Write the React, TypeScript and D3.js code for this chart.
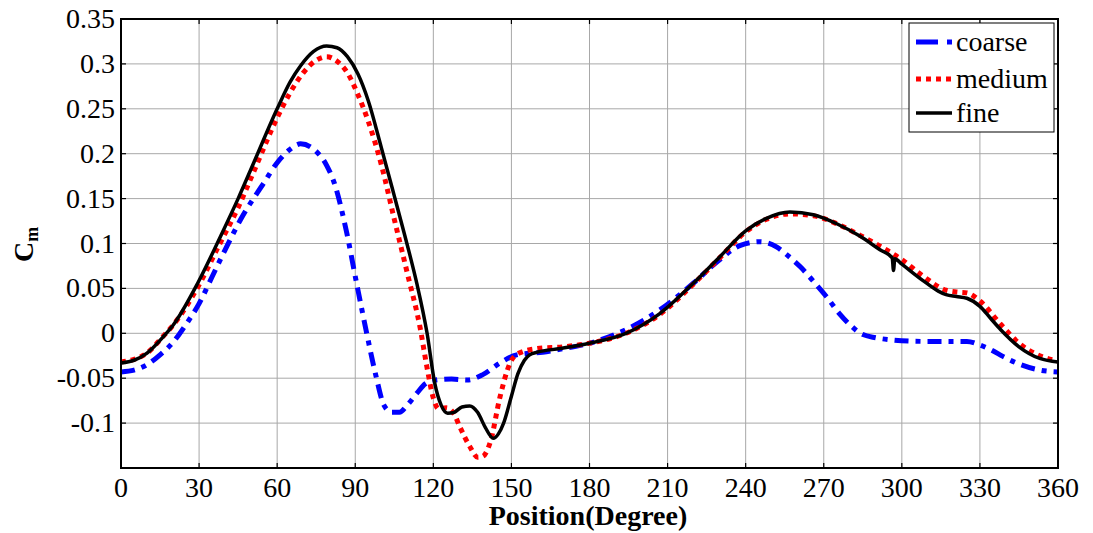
import React from "react";
import * as d3 from "d3";

const xTicks = [0, 30, 60, 90, 120, 150, 180, 210, 240, 270, 300, 330, 360];
const yTicks = [-0.1, -0.05, 0, 0.05, 0.1, 0.15, 0.2, 0.25, 0.3, 0.35];
const yTickLabels = ["-0.1", "-0.05", "0", "0.05", "0.1", "0.15", "0.2", "0.25", "0.3", "0.35"];

const coarse: [number, number][] = [
  [0, -0.043], [5, -0.041], [10, -0.035], [15, -0.024], [20, -0.01], [25, 0.01],
  [30, 0.033], [35, 0.063], [40, 0.093], [46, 0.127], [55, 0.168], [60, 0.19], [65, 0.205], [69, 0.211],
  [74, 0.205], [79, 0.187], [82, 0.167], [86.5, 0.115], [90.5, 0.056], [94.4, 0.0],
  [98, -0.048], [101, -0.08], [104, -0.088], [107, -0.088], [110, -0.08], [113.6, -0.067],
  [117, -0.056], [121, -0.052], [127, -0.051], [133, -0.052], [139, -0.046], [145.6, -0.033],
  [152, -0.024], [162, -0.021], [170, -0.017], [180, -0.011], [194, 0.004], [207, 0.026],
  [220, 0.056], [230, 0.082], [238, 0.098], [245.5, 0.102], [252, 0.096], [256, 0.087],
  [261, 0.074], [266, 0.058], [271, 0.041], [276, 0.022], [281, 0.007], [284, 0.0],
  [290, -0.005], [295, -0.007], [308, -0.009], [318, -0.009], [325, -0.009], [330, -0.013],
  [334, -0.018], [339, -0.026], [344, -0.033], [353, -0.041], [360, -0.043],
];

const medium: [number, number][] = [
  [0, -0.032], [5, -0.029], [10, -0.022], [16, -0.004], [20, 0.009], [30, 0.054],
  [38, 0.1], [45, 0.14], [51, 0.18], [60, 0.24], [65, 0.268], [70, 0.29],
  [75, 0.304], [79, 0.308], [83, 0.303], [87, 0.29], [91, 0.266], [95, 0.236],
  [100, 0.188], [105, 0.127], [110, 0.067], [115, 0.005], [117.5, -0.037], [120, -0.072],
  [122, -0.084], [125, -0.083], [128, -0.09], [130, -0.103], [134, -0.126], [137, -0.138],
  [139, -0.137], [142, -0.12], [145.6, -0.071], [149.5, -0.033], [153, -0.022], [160, -0.017],
  [170, -0.015], [180, -0.011], [194, 0.0], [207, 0.021], [220, 0.055], [230, 0.084],
  [240, 0.113], [248, 0.127], [257, 0.133], [266, 0.131], [275, 0.122], [284, 0.109],
  [291.6, 0.097], [300, 0.082], [308, 0.064], [317, 0.048], [321, 0.046], [325, 0.045],
  [330, 0.036], [338, 0.01], [345, -0.011], [353, -0.025], [360, -0.031],
];

const fine: [number, number][] = [
  [0, -0.033], [5, -0.03], [10, -0.022], [16.5, -0.003], [20, 0.009], [29.5, 0.056],
  [38.4, 0.109], [45, 0.15], [51, 0.19], [60, 0.25], [65, 0.28], [69, 0.298],
  [74, 0.314], [79, 0.32], [83, 0.318], [87, 0.308], [91, 0.289], [95, 0.259],
  [100, 0.207], [105, 0.153], [108.3, 0.117], [111, 0.087], [113.7, 0.055], [117.6, 0.0],
  [120.5, -0.055], [123, -0.08], [125.5, -0.089], [128, -0.088], [131, -0.082], [134, -0.081],
  [137, -0.088], [140, -0.105], [143, -0.117], [145, -0.112], [147, -0.1], [150, -0.07],
  [152.5, -0.045], [155, -0.03], [157, -0.024], [160, -0.021], [168.7, -0.017], [180, -0.011],
  [194, 0.0], [207, 0.022], [220, 0.056], [230, 0.085], [240, 0.114], [248, 0.128],
  [257, 0.135], [266, 0.132], [275, 0.122], [284, 0.108], [291.6, 0.093], [296.3, 0.084],
  [296.8, 0.07], [297.3, 0.083], [300, 0.077], [308, 0.059], [314, 0.047], [317, 0.043],
  [321, 0.041], [325, 0.039], [330, 0.03], [334, 0.017], [338, 0.004], [345, -0.015],
  [353, -0.028], [360, -0.032],
];

const legendNames = ["coarse", "medium", "fine"];

const W = 1093;
const H = 533;
const left = 121;
const right = 1058;
const top = 19;
const bottom = 468;

export default function App() {
  const x = d3.scaleLinear().domain([0, 360]).range([left, right]);
  const y = d3.scaleLinear().domain([-0.15, 0.35]).range([bottom, top]);
  const line = d3
    .line<[number, number]>()
    .x((d) => x(d[0]))
    .y((d) => y(d[1]))
    .curve(d3.curveMonotoneX);

  const font = "Liberation Serif, Times New Roman, DejaVu Serif, serif";
  const gridColor = "#a8a8a8";
  const tf = { fontFamily: font };

  const series = [
    { data: coarse, color: "#0000ff", width: 5, dash: "14 7 5 7" },
    { data: medium, color: "#ff0000", width: 5, dash: "5 5" },
    { data: fine, color: "#000000", width: 3.5, dash: "none" },
  ];

  const legX = 909;
  const legY = 23;
  const rowY = [42, 79, 113];

  return (
    <svg width={W} height={H} style={{ position: "absolute", left: 0, top: 0, background: "#fff" }}>
      <rect x={0} y={0} width={W} height={H} fill="#fff" />
      {/* grid */}
      {xTicks.map((t) => (
        <line key={"gx" + t} x1={x(t)} x2={x(t)} y1={top} y2={bottom} stroke={gridColor} strokeWidth={1} />
      ))}
      {yTicks.map((t) => (
        <line key={"gy" + t} x1={left} x2={right} y1={y(t)} y2={y(t)} stroke={gridColor} strokeWidth={1} />
      ))}
      {/* ticks */}
      {xTicks.map((t) => (
        <g key={"tx" + t}>
          <line x1={x(t)} x2={x(t)} y1={bottom} y2={bottom - 5} stroke="#000" strokeWidth={1.2} />
          <line x1={x(t)} x2={x(t)} y1={top} y2={top + 5} stroke="#000" strokeWidth={1.2} />
          <text x={x(t)} y={497} textAnchor="middle" style={tf} fontSize={28} fill="#000">
            {t}
          </text>
        </g>
      ))}
      {yTicks.map((t, i) => (
        <g key={"ty" + t}>
          <line x1={left} x2={left + 5} y1={y(t)} y2={y(t)} stroke="#000" strokeWidth={1.2} />
          <line x1={right} x2={right - 5} y1={y(t)} y2={y(t)} stroke="#000" strokeWidth={1.2} />
          <text x={115} y={y(t) + 9} textAnchor="end" style={tf} fontSize={28} fill="#000">
            {yTickLabels[i]}
          </text>
        </g>
      ))}
      {/* series */}
      <defs>
        <clipPath id="plotclip">
          <rect x={left} y={top} width={right - left} height={bottom - top} />
        </clipPath>
      </defs>
      <g clipPath="url(#plotclip)">
        {series.map((s, i) => (
          <path
            key={i}
            d={line(s.data) || ""}
            fill="none"
            stroke={s.color}
            strokeWidth={s.width}
            strokeDasharray={s.dash}
            strokeLinejoin="round"
          />
        ))}
      </g>
      {/* axes box */}
      <rect x={left} y={top} width={right - left} height={bottom - top} fill="none" stroke="#000" strokeWidth={2} />
      {/* legend */}
      <rect x={legX} y={legY} width={145} height={109} fill="#fff" stroke="#000" strokeWidth={1} />
      {series.map((s, i) => (
        <g key={"leg" + i}>
          <line
            x1={916}
            x2={952}
            y1={rowY[i]}
            y2={rowY[i]}
            stroke={s.color}
            strokeWidth={s.width}
            strokeDasharray={i === 0 ? "22 9 5 20" : s.dash}
          />
          <text x={956} y={rowY[i] + 9} style={tf} fontSize={28} fill="#000">
            {legendNames[i]}
          </text>
        </g>
      ))}
      {/* axis labels */}
      <text x={588} y={525} textAnchor="middle" style={tf} fontSize={28} fontWeight="bold" fill="#000">
        Position(Degree)
      </text>
      <g transform="translate(33, 262) rotate(-90)">
        <text x={0} y={0} style={tf} fontSize={28} fontWeight="bold" fill="#000">
          C
          <tspan fontSize={18} dy={5}>
            m
          </tspan>
        </text>
      </g>
    </svg>
  );
}
